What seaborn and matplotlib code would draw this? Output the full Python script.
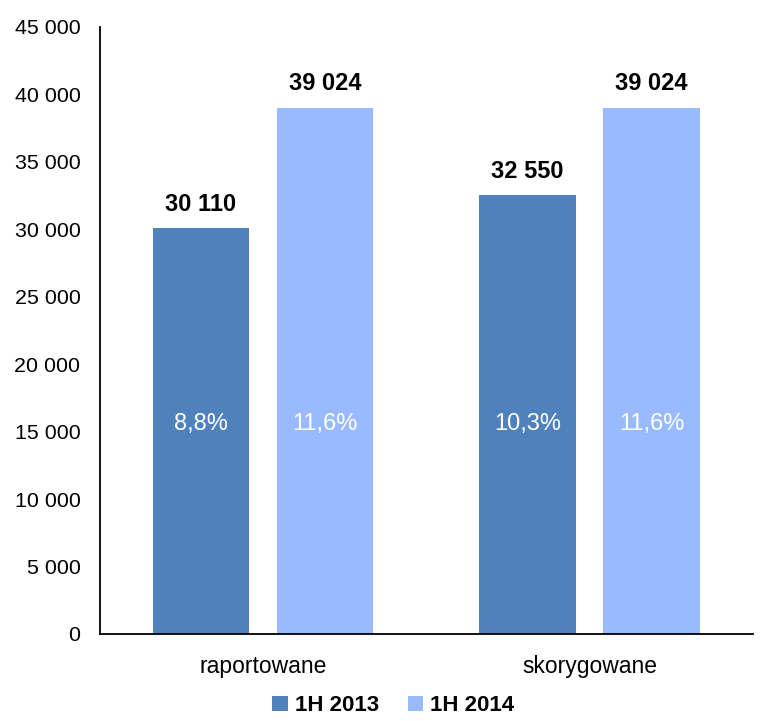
import matplotlib
matplotlib.use('Agg')
from matplotlib import pyplot as plt
import seaborn as sns
import pandas as pd

categories = ['raportowane', 'skorygowane']
series = ['1H 2013', '1H 2014']
values_2013 = [30110, 32550]
values_2014 = [39024, 39024]
pct_2013 = ['8,8%', '10,3%']
pct_2014 = ['11,6%', '11,6%']
yticks = [0, 5000, 10000, 15000, 20000, 25000, 30000, 35000, 40000, 45000]
colors = ['#4F81BD', '#99BAFF']


def fmt(v):
    return '{:,}'.format(int(v)).replace(',', ' ')


df = pd.DataFrame({
    'kategoria': categories * 2,
    'seria': [series[0]] * 2 + [series[1]] * 2,
    'wartosc': values_2013 + values_2014,
})

sns.set_style('white')
plt.rcParams['font.family'] = ['Liberation Sans', 'DejaVu Sans']
plt.rcParams['text.color'] = 'black'
plt.rcParams['xtick.color'] = 'black'
plt.rcParams['ytick.color'] = 'black'

fig = plt.figure(figsize=(7.68, 7.21), dpi=100)
ax = fig.add_axes([0.130, 0.1207, 0.850, 0.8419])

sns.barplot(data=df, x='kategoria', y='wartosc', hue='seria', palette=colors,
            width=0.76, gap=0.22, saturation=1, linewidth=0, ax=ax)

ax.set_ylim(0, 45000)
ax.set_xlim(-0.5, 1.5)
ax.set_yticks(yticks)
ax.set_yticklabels([fmt(t) for t in yticks])
ax.set_xlabel('')
ax.set_ylabel('')
ax.tick_params(axis='y', length=0, pad=14, labelsize=15.4, labelcolor='black')
ax.tick_params(axis='x', length=0, pad=15, labelsize=16.5, labelcolor='black')
sns.despine(ax=ax)
for s in ['left', 'bottom']:
    ax.spines[s].set_color('black')
    ax.spines[s].set_linewidth(1.3)

# etykiety wartosci i procentow
pcts = [pct_2013, pct_2014]
for cont, labs in zip(ax.containers, pcts):
    for bar, lab in zip(cont, labs):
        cx = bar.get_x() + bar.get_width() / 2
        h = bar.get_height()
        ax.annotate(fmt(h), (cx, h), xytext=(0, 17), textcoords='offset points',
                    ha='center', va='center', fontsize=17, fontweight='bold',
                    color='black')
        ax.text(cx, 15600, lab, ha='center', va='center', color='white', fontsize=17)

handles, labels = ax.get_legend_handles_labels()
ax.get_legend().remove()
fig.legend(handles, labels, loc='center', bbox_to_anchor=(0.512, 0.021), ncol=2,
           frameon=False, handlelength=0.7, handleheight=0.7, handletextpad=0.3,
           columnspacing=1.3, prop={'weight': 'bold', 'size': 16})

fig.savefig('out.png', dpi=100)
